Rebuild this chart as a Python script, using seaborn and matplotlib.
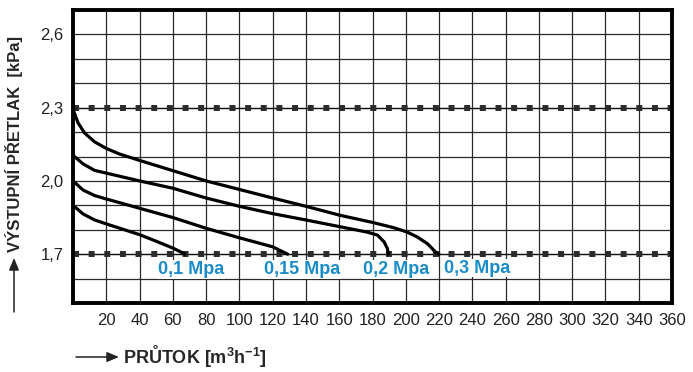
import numpy as np
import pandas as pd
import matplotlib
matplotlib.use('Agg')
import matplotlib.pyplot as plt
import seaborn as sns

# krivky (prutok, vystupni pretlak)
q_01 = [0, 6, 13, 20, 40, 50, 60, 66, 67]
p_01 = [1.90, 1.865, 1.84, 1.824, 1.78, 1.753, 1.725, 1.705, 1.70]

q_015 = [0, 6, 13, 20, 40, 60, 80, 100, 112, 120, 129]
p_015 = [2.00, 1.963, 1.94, 1.926, 1.888, 1.85, 1.806, 1.767, 1.745, 1.73, 1.70]

q_02 = [0, 6, 13, 20, 40, 60, 80, 100, 120, 140, 160, 177, 183, 187, 189, 189.5]
p_02 = [2.105, 2.07, 2.043, 2.032, 2.00, 1.97, 1.93, 1.896, 1.866, 1.84, 1.813,
        1.79, 1.778, 1.75, 1.722, 1.70]

q_03 = [0, 0.4, 3, 7, 13, 20, 28, 40, 60, 80, 100, 112, 120, 140, 160, 180, 193, 201,
        207, 213, 218, 220]
p_03 = [2.30, 2.286, 2.238, 2.196, 2.16, 2.133, 2.11, 2.084, 2.042, 2.00, 1.965, 1.944,
        1.93, 1.896, 1.86, 1.83, 1.808, 1.79, 1.77, 1.743, 1.708, 1.70]

series = ['0,1 Mpa', '0,15 Mpa', '0,2 Mpa', '0,3 Mpa']
ref_levels = [1.7, 2.3]
x_ticks = list(range(0, 361, 20))
y_ticks = [round(1.5 + 0.1 * i, 1) for i in range(13)]
y_labeled = [1.7, 2.0, 2.3, 2.6]

df = pd.concat([
    pd.DataFrame({'q': q, 'p': p, 'tlak': s})
    for q, p, s in zip([q_01, q_015, q_02, q_03], [p_01, p_015, p_02, p_03], series)
])

sns.set_theme(style='white')
plt.rcParams['font.family'] = ['Liberation Sans', 'DejaVu Sans']
plt.rcParams['mathtext.fontset'] = 'custom'
plt.rcParams['mathtext.rm'] = 'Liberation Sans'
plt.rcParams['mathtext.bf'] = 'Liberation Sans:bold'

fig = plt.figure(figsize=(6.93, 3.72), dpi=100)
ax = fig.add_axes([73 / 693, 1 - 303 / 372, (672 - 73) / 693, (303 - 10) / 372])

ax.set_xlim(0, 360)
ax.set_ylim(1.5, 2.7)
ax.set_xticks(x_ticks)
ax.set_xticklabels(['' if t == 0 else str(t) for t in x_ticks], fontsize=12)
ax.set_yticks(y_ticks)
ax.set_yticklabels([str(t).replace('.', ',') if t in y_labeled else '' for t in y_ticks],
                   fontsize=12)
ax.tick_params(length=0, pad=7, colors='#222222')
ax.grid(True, color='#2a2a2a', lw=0.9)
ax.set_axisbelow(True)

# teckovane hranice
for y in ref_levels:
    ax.axhline(y, color='#111111', lw=0.9, zorder=2)
    ax.axhline(y, color='#2b2b2b', lw=4.3, linestyle=(0, (1, 1.62)), zorder=2)

sns.lineplot(data=df, x='q', y='p', hue='tlak', palette={s: 'black' for s in series},
             estimator=None, sort=False, lw=2.3, legend=False, ax=ax, zorder=3,
             solid_joinstyle='round', solid_capstyle='round')

label_x = [71, 137.5, 194, 243]
label_y = [1.638, 1.638, 1.638, 1.643]
for s, lx, ly in zip(series, label_x, label_y):
    ax.text(lx, ly, s, color='#1a8cc8', fontsize=13, fontweight='bold',
            ha='center', va='center', zorder=4,
            bbox=dict(facecolor='white', edgecolor='none', pad=0.5))

for sp in ax.spines.values():
    sp.set_visible(True)
    sp.set_color('black')
    sp.set_linewidth(2.8)

ax.set_xlabel('')
ax.set_ylabel('')

# popisky os se sipkami
arrow = dict(arrowstyle='-|>,head_length=0.6,head_width=0.25', color='#222222', lw=1.1,
             shrinkA=0, shrinkB=0)
ax.annotate('', xy=(119 / 693, 1 - 357 / 372), xytext=(76 / 693, 1 - 357 / 372),
            xycoords='figure fraction', textcoords='figure fraction', arrowprops=arrow)
fig.text(123 / 693, 1 - 356 / 372, 'PRŮTOK [m$^{\\mathbf{3}}$h$^{\\mathbf{-1}}$]',
         fontsize=13, fontweight='bold', ha='left', va='center')

ax.annotate('', xy=(14 / 693, 1 - 258 / 372), xytext=(14 / 693, 1 - 312 / 372),
            xycoords='figure fraction', textcoords='figure fraction', arrowprops=arrow)
fig.text(14 / 693, 1 - 252 / 372, 'VÝSTUPNÍ PŘETLAK  [kPa]', fontsize=12,
         fontweight='bold', rotation=90, rotation_mode='anchor', ha='left', va='center')

fig.savefig('out.png', dpi=100)
